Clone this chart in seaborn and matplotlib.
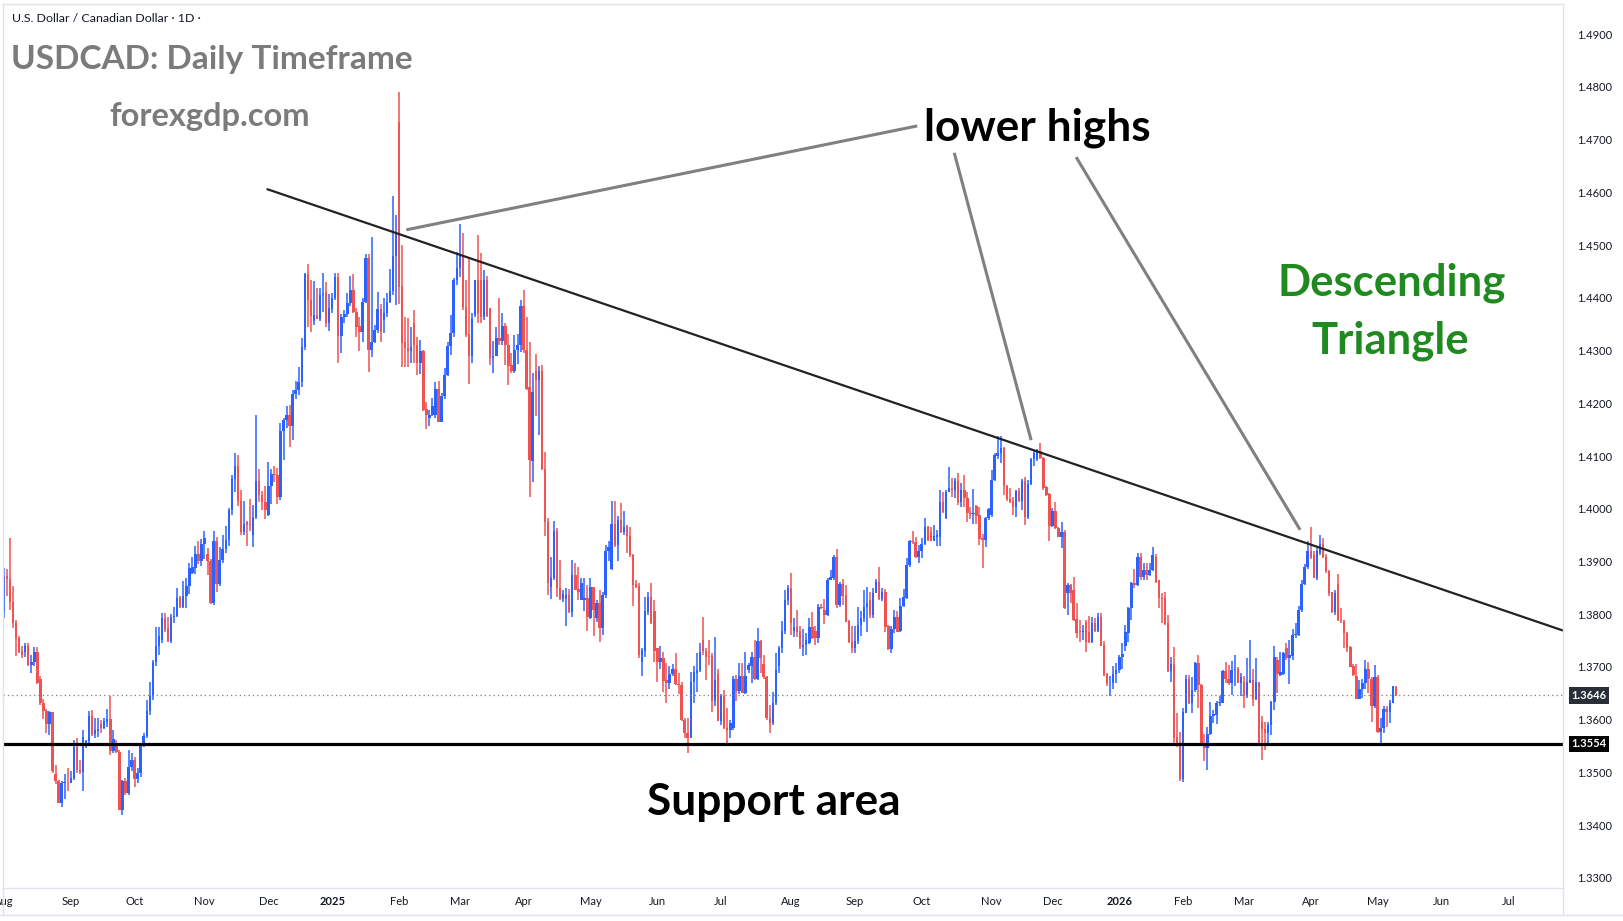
import numpy as np
import pandas as pd
import matplotlib
matplotlib.use("Agg")
import matplotlib.pyplot as plt
import matplotlib.transforms as mtransforms
from matplotlib.lines import Line2D
import seaborn as sns

# USDCAD daily candles, Aug 2024 - May 2026
# values are pips above 1.3000 (872 -> 1.3872)
opens = [
    805, 873, 866, 823, 783, 755, 731, 729, 740, 703, 709, 728, 677, 631, 617, 592, 614, 497, 483, 442,
    480, 482, 480, 489, 548, 505, 501, 553, 559, 607, 573, 578, 592, 584, 595, 602, 540, 554, 538, 429,
    483, 461, 511, 524, 487, 499, 552, 569, 617, 645, 709, 740, 752, 793,
    773, 750, 794, 797, 830, 814, 835, 853, 879, 887, 914, 901, 933, 915, 900, 821, 938, 858, 903, 923,
    941, 997, 1057, 1081, 1014, 955, 975, 972, 950, 984, 1052, 1026, 1012, 988, 1043, 1066, 1064, 1023, 1147, 1168,
    1178, 1156, 1218, 1226, 1240, 1307, 1446, 1395, 1357, 1367, 1360, 1406, 1411, 1352,
    1378, 1399, 1439, 1328, 1363, 1369, 1391, 1415, 1374, 1347, 1336, 1393, 1475, 1301, 1316, 1339, 1378, 1358, 1371, 1393,
    1413, 1479, 1734, 1422, 1317, 1304, 1300, 1352, 1311, 1277, 1299, 1189, 1172, 1178, 1178, 1227, 1165, 1213, 1254, 1309,
    1333, 1433, 1456, 1481, 1383, 1331, 1290, 1367,
    1434, 1433, 1364, 1434, 1380, 1285, 1290, 1323, 1319, 1347, 1311, 1273, 1262, 1302, 1311, 1385, 1301, 1230, 1091, 1261,
    1244, 1261, 1075, 974, 852, 868, 957, 849, 828, 828, 837, 805, 875, 847, 827, 826, 830, 792, 851, 792,
    821, 773, 837, 919, 885, 971, 931, 979, 955, 967, 948, 912, 858, 854,
    710, 731, 805, 832, 807, 735, 710, 716, 675, 670, 687, 697, 668, 666, 599, 575, 566, 672, 689, 695,
    752, 731, 721, 721, 636, 687, 598, 644, 585, 580, 584, 678, 655, 683, 651, 694, 702, 718, 678, 750,
    706, 680, 603, 593, 631, 701, 735, 769, 826, 849, 769, 776,
    768, 737, 742, 745, 776, 768, 755, 814, 808, 799, 865, 868, 909, 817, 857, 836, 787, 747, 735, 749,
    780, 792, 814, 827, 799, 840, 861, 829, 843, 777, 734, 772, 795, 768, 816, 830, 893, 939, 936, 909,
    919, 933, 966, 955, 939, 947, 947, 1013, 982, 1032, 1039, 1036, 1053,
    1013, 1035, 1020, 992, 990, 1005, 988, 944, 941, 982, 988, 1055, 1100, 1105, 1115, 1043, 1018, 1015, 1003, 1034,
    1015, 1053, 985, 1047, 1094, 1094, 1110, 1097, 1041, 1028, 967, 996, 963, 947, 955, 840, 855, 845, 790, 768,
    767, 786, 767, 748, 784, 769, 795, 742, 686, 669, 669, 687, 694, 718,
    740, 765, 811, 860, 855, 909, 870, 884, 874, 883, 908, 864, 830, 830, 783, 693, 706, 568, 552, 487,
    613, 678, 632, 657, 708, 666, 555, 547, 573, 606, 609, 631, 632, 693, 677, 669, 694, 697, 670, 672,
    644, 670, 676, 640, 672, 596, 583, 575, 590, 634, 713, 685,
    686, 735, 716, 721, 760, 761, 808, 857, 889, 920, 912, 868, 917, 933, 908, 881, 843, 805, 857, 789,
    788, 764, 738, 702, 682, 640, 659, 669, 697, 678, 625, 681, 577, 584, 621, 615, 632, 661,
]
highs = [
    887, 885, 944, 854, 789, 758, 739, 746, 745, 723, 737, 737, 683, 640, 620, 616, 614, 514, 486, 483,
    496, 508, 502, 562, 565, 524, 581, 562, 616, 619, 603, 603, 600, 603, 620, 645, 581, 562, 543, 486,
    489, 543, 537, 530, 508, 555, 575, 638, 672, 714, 775, 775, 802, 802,
    794, 801, 814, 849, 835, 863, 868, 898, 908, 929, 939, 943, 957, 925, 905, 957, 946, 927, 950, 967,
    1002, 1064, 1105, 1101, 1036, 1014, 976, 1019, 1007, 1177, 1076, 1033, 1043, 1088, 1075, 1082, 1078, 1163, 1173, 1194,
    1196, 1226, 1242, 1269, 1323, 1448, 1464, 1434, 1432, 1418, 1418, 1448, 1430, 1407,
    1409, 1448, 1448, 1369, 1377, 1409, 1441, 1445, 1380, 1363, 1399, 1484, 1483, 1516, 1349, 1412, 1388, 1399, 1409, 1454,
    1593, 1557, 1790, 1500, 1364, 1361, 1345, 1376, 1326, 1320, 1302, 1203, 1187, 1210, 1241, 1243, 1219, 1266, 1317, 1367,
    1437, 1486, 1540, 1523, 1434, 1478, 1371, 1434,
    1519, 1485, 1452, 1441, 1380, 1319, 1345, 1399, 1371, 1352, 1331, 1295, 1330, 1331, 1395, 1414, 1364, 1317, 1257, 1294,
    1270, 1273, 1108, 982, 909, 976, 963, 903, 846, 849, 847, 903, 897, 890, 868, 868, 856, 868, 852, 827,
    846, 843, 931, 938, 1014, 1015, 987, 1010, 995, 969, 966, 915, 865, 860,
    735, 833, 843, 859, 827, 735, 740, 729, 707, 702, 706, 726, 689, 672, 604, 604, 691, 701, 726, 745,
    795, 735, 752, 726, 757, 697, 649, 656, 622, 599, 683, 685, 708, 707, 729, 707, 729, 752, 773, 752,
    723, 682, 628, 653, 726, 740, 788, 845, 855, 878, 792, 808,
    778, 772, 764, 793, 805, 778, 819, 819, 829, 869, 884, 912, 924, 862, 867, 855, 789, 777, 777, 814,
    806, 846, 852, 843, 850, 867, 890, 850, 848, 780, 777, 808, 806, 831, 848, 906, 941, 958, 947, 931,
    944, 983, 968, 966, 969, 960, 1035, 1032, 1036, 1080, 1059, 1058, 1067,
    1049, 1064, 1032, 1003, 1037, 1007, 1003, 953, 985, 1001, 1073, 1106, 1138, 1138, 1117, 1045, 1039, 1023, 1036, 1039,
    1056, 1061, 1055, 1097, 1111, 1114, 1124, 1098, 1043, 1030, 1001, 1013, 965, 975, 960, 859, 857, 871, 822, 789,
    780, 789, 797, 795, 792, 803, 803, 750, 688, 683, 701, 707, 723, 745,
    780, 814, 862, 885, 917, 917, 898, 897, 897, 928, 915, 865, 841, 843, 798, 719, 738, 613, 577, 622,
    685, 685, 680, 710, 723, 668, 573, 587, 634, 618, 636, 644, 695, 710, 704, 712, 723, 699, 689, 682,
    716, 751, 697, 716, 672, 606, 596, 596, 636, 740, 719, 729,
    729, 746, 752, 771, 783, 815, 865, 896, 938, 966, 919, 925, 950, 944, 915, 883, 843, 846, 877, 811,
    789, 767, 740, 706, 706, 675, 677, 713, 710, 681, 704, 685, 603, 625, 625, 637, 664, 663,
]
lows = [
    793, 834, 808, 774, 720, 726, 717, 718, 701, 688, 701, 668, 628, 601, 575, 571, 499, 477, 441, 435,
    449, 464, 480, 486, 499, 496, 464, 546, 555, 569, 565, 568, 575, 582, 587, 533, 537, 537, 428, 420,
    458, 458, 502, 473, 480, 492, 549, 565, 609, 638, 701, 723, 745, 767,
    747, 745, 783, 794, 812, 811, 812, 839, 877, 877, 896, 891, 905, 875, 819, 818, 842, 854, 898, 916,
    929, 988, 1032, 1005, 951, 950, 930, 958, 927, 981, 1012, 998, 981, 986, 1009, 1050, 1009, 1016, 1092, 1154,
    1118, 1130, 1208, 1215, 1231, 1302, 1344, 1335, 1349, 1359, 1357, 1374, 1344, 1337,
    1371, 1395, 1277, 1296, 1352, 1363, 1385, 1371, 1326, 1300, 1317, 1390, 1260, 1288, 1314, 1333, 1317, 1333, 1363, 1391,
    1405, 1387, 1388, 1269, 1268, 1269, 1276, 1276, 1254, 1256, 1186, 1151, 1157, 1176, 1172, 1165, 1165, 1209, 1251, 1292,
    1326, 1424, 1440, 1377, 1326, 1237, 1277, 1363,
    1352, 1352, 1358, 1364, 1273, 1258, 1289, 1311, 1311, 1273, 1234, 1257, 1258, 1275, 1298, 1296, 1225, 1023, 1051, 1175,
    1140, 1074, 949, 837, 828, 864, 833, 826, 824, 778, 802, 794, 845, 827, 826, 807, 769, 790, 758, 786,
    748, 761, 830, 900, 884, 928, 900, 954, 950, 916, 908, 815, 849, 716,
    683, 719, 798, 781, 710, 672, 697, 653, 632, 659, 682, 666, 649, 598, 565, 537, 565, 632, 653, 691,
    723, 675, 704, 615, 626, 597, 590, 582, 554, 565, 580, 636, 649, 650, 649, 688, 670, 675, 675, 688,
    678, 599, 574, 590, 628, 688, 727, 762, 817, 761, 757, 757,
    734, 721, 723, 743, 753, 742, 745, 810, 781, 796, 865, 865, 812, 814, 817, 785, 745, 726, 726, 743,
    759, 786, 767, 792, 792, 840, 827, 825, 766, 732, 726, 764, 766, 767, 814, 829, 890, 933, 907, 897,
    906, 931, 939, 938, 938, 930, 930, 991, 981, 1032, 1023, 1021, 1007,
    1004, 1003, 974, 980, 971, 972, 931, 887, 927, 979, 985, 1053, 1094, 1086, 1026, 1015, 1010, 988, 984, 1013,
    998, 969, 980, 1045, 1081, 1091, 1094, 1036, 1024, 938, 965, 961, 946, 925, 809, 799, 822, 788, 754, 748,
    752, 729, 746, 746, 767, 767, 739, 682, 663, 644, 658, 669, 688, 697,
    731, 748, 789, 849, 853, 865, 864, 865, 872, 881, 859, 811, 783, 779, 691, 672, 550, 549, 484, 481,
    612, 630, 613, 653, 623, 550, 522, 505, 571, 593, 592, 625, 631, 669, 666, 647, 663, 669, 644, 623,
    641, 669, 625, 637, 555, 524, 543, 552, 571, 618, 651, 682,
    685, 714, 668, 714, 754, 759, 805, 855, 885, 904, 868, 865, 912, 906, 879, 835, 802, 798, 788, 784,
    735, 729, 699, 683, 640, 640, 642, 658, 651, 596, 622, 575, 550, 575, 587, 593, 631, 644,
]
closes = [
    872, 867, 823, 783, 755, 729, 723, 740, 703, 709, 728, 669, 631, 617, 592, 614, 502, 483, 442, 480,
    482, 481, 489, 548, 504, 501, 567, 559, 607, 573, 580, 582, 584, 597, 602, 540, 564, 538, 429, 483,
    461, 511, 524, 487, 499, 552, 569, 617, 645, 709, 740, 758, 793, 770,
    750, 794, 797, 830, 814, 835, 853, 887, 889, 914, 901, 933, 944, 900, 821, 938, 858, 903, 923, 941,
    997, 1057, 1081, 1014, 955, 972, 970, 969, 984, 1052, 1026, 1012, 998, 1043, 1066, 1064, 1023, 1147, 1168, 1178,
    1156, 1218, 1226, 1241, 1307, 1446, 1395, 1366, 1367, 1360, 1406, 1408, 1352, 1380,
    1399, 1439, 1328, 1363, 1369, 1391, 1415, 1374, 1345, 1336, 1393, 1475, 1301, 1316, 1339, 1378, 1336, 1371, 1393, 1413,
    1479, 1523, 1421, 1315, 1304, 1300, 1306, 1311, 1277, 1299, 1187, 1178, 1178, 1194, 1227, 1165, 1213, 1254, 1309, 1333,
    1433, 1456, 1481, 1383, 1330, 1290, 1359, 1434,
    1372, 1364, 1434, 1366, 1285, 1290, 1323, 1319, 1347, 1311, 1271, 1262, 1302, 1311, 1385, 1301, 1228, 1093, 1222, 1244,
    1261, 1075, 974, 860, 868, 957, 849, 828, 839, 837, 805, 875, 846, 843, 860, 830, 794, 851, 808, 821,
    773, 837, 919, 928, 971, 931, 979, 955, 965, 948, 912, 856, 852, 723,
    732, 807, 832, 783, 731, 710, 716, 674, 670, 687, 697, 668, 666, 599, 575, 566, 672, 691, 695, 729,
    731, 719, 719, 636, 675, 598, 644, 584, 580, 594, 678, 655, 682, 651, 683, 704, 718, 678, 750, 716,
    680, 603, 593, 631, 695, 735, 769, 826, 849, 784, 776, 767,
    737, 742, 751, 776, 754, 754, 814, 811, 799, 865, 871, 909, 817, 857, 835, 786, 747, 735, 749, 780,
    792, 814, 821, 799, 840, 861, 829, 842, 775, 734, 772, 795, 767, 816, 833, 893, 939, 936, 909, 919,
    933, 966, 941, 939, 949, 950, 1013, 993, 1032, 1039, 1036, 1053, 1013,
    1035, 1020, 991, 990, 992, 986, 942, 941, 982, 999, 1055, 1102, 1106, 1115, 1043, 1018, 1013, 1003, 1034, 1015,
    1053, 985, 1047, 1094, 1106, 1111, 1097, 1039, 1026, 967, 996, 963, 947, 955, 811, 855, 841, 789, 765, 767,
    768, 748, 748, 784, 769, 795, 740, 685, 669, 670, 687, 694, 718, 725,
    767, 811, 860, 855, 909, 870, 884, 874, 884, 912, 862, 830, 828, 781, 693, 706, 565, 552, 487, 615,
    678, 631, 657, 708, 666, 552, 547, 573, 607, 611, 632, 634, 693, 677, 669, 695, 697, 670, 681, 644,
    672, 676, 640, 672, 556, 583, 575, 590, 634, 719, 687, 691,
    727, 716, 723, 761, 763, 808, 857, 889, 920, 909, 868, 919, 933, 908, 881, 841, 805, 841, 789, 788,
    764, 735, 700, 685, 640, 659, 670, 697, 678, 625, 681, 577, 584, 621, 615, 632, 663, 646,
]

# levels drawn on the chart
support_level = 1.3554
last_price = 1.3646
price_ticks = np.arange(1.33, 1.4901, 0.01)

# descending trendline (bar index, price)
trend_x = [86.7, 513.0]
trend_y = [1.4606, 1.3769]
# pointers from the "lower highs" label to the three highs
pointer_start = [(300.5, 1.4726), (312.7, 1.4675), (352.8, 1.4667)]
pointer_end = [(132.4, 1.4529), (338.0, 1.4130), (426.5, 1.3960)]

holidays = ["2024-12-25", "2025-01-01", "2025-12-25", "2026-01-01"]
dates = pd.bdate_range("2024-08-01", "2026-07-31", freq="C", holidays=holidays)

n = len(closes)
df = pd.DataFrame({
    "date": dates[:n],
    "open": 1.3 + np.array(opens) / 10000,
    "high": 1.3 + np.array(highs) / 10000,
    "low": 1.3 + np.array(lows) / 10000,
    "close": 1.3 + np.array(closes) / 10000,
})
df["x"] = np.arange(n)
df["up"] = df["close"] >= df["open"]

UP, DOWN = "#2962FF", "#F05252"
colors = np.where(df["up"], UP, DOWN)

sns.set_theme(style="white")
plt.rcParams["font.family"] = ["Lato", "DejaVu Sans"]

W, H = 1623, 921
fig = plt.figure(figsize=(W / 100, H / 100), dpi=100)
ax = fig.add_axes([3 / W, 1 - 888 / H, 1560 / W, 884 / H])

# candles
ax.vlines(df["x"], df["low"], df["high"], colors=colors, linewidth=1.1)
body_bottom = df[["open", "close"]].min(axis=1)
body_height = (df["close"] - df["open"]).abs().clip(lower=0.00012)
ax.bar(df["x"], body_height, bottom=body_bottom, width=0.82, color=colors, linewidth=0)

# levels and trendline
ax.axhline(support_level, color="black", linewidth=2.3)
ax.axhline(last_price, color="#787b86", linewidth=0.9, linestyle=(0, (1, 2.5)))
sns.lineplot(x=trend_x, y=trend_y, ax=ax, color="#222222", linewidth=1.6)
for (x0, y0), (x1, y1) in zip(pointer_start, pointer_end):
    ax.plot([x0, x1], [y0, y1], color="#808080", linewidth=2.2, solid_capstyle="butt")

ax.set_xlim(-0.3, 513.0)
ax.set_ylim(1.32807, 1.49573)

# x axis: first trading day of each month
pos = pd.Series(np.arange(len(dates)), index=dates)
month_first = pos.groupby([dates.year, dates.month]).first()
tick_labels = []
for (yr, mo) in month_first.index:
    tick_labels.append(str(yr) if mo == 1 else pd.Timestamp(yr, mo, 1).strftime("%b"))
ax.set_xticks(month_first.values)
ax.set_xticklabels(tick_labels)
ax.tick_params(axis="x", length=0, pad=6, labelsize=8, labelcolor="#131722")
for lbl in ax.get_xticklabels():
    if lbl.get_text().isdigit():
        lbl.set_fontweight("bold")

# y axis on the right
ax.yaxis.tick_right()
ax.set_yticks(price_ticks)
ax.set_yticklabels([f"{v:.4f}" for v in price_ticks])
ax.tick_params(axis="y", length=0, pad=10, labelsize=8, labelcolor="#131722")

for s in ax.spines.values():
    s.set_color("#e0e3eb")
    s.set_linewidth(1)

# price tags
tag_tr = mtransforms.blended_transform_factory(ax.transAxes, ax.transData)
for price, bg in [(last_price, "#2a2e39"), (support_level, "#000000")]:
    ax.text(1.0167, price, f"{price:.4f}", transform=tag_tr, ha="center", va="center",
            fontsize=8, fontweight="bold", color="white", clip_on=False,
            bbox=dict(boxstyle="square,pad=0.25", fc=bg, ec="none"))

# outer frame pieces below the plot
fig.add_artist(Line2D([0, 1], [6 / H, 6 / H], color="#e0e3eb", linewidth=1))
fig.add_artist(Line2D([1563 / W, 1563 / W], [6 / H, 33 / H], color="#e0e3eb", linewidth=1))
fig.add_artist(Line2D([3 / W, 3 / W], [6 / H, 33 / H], color="#e0e3eb", linewidth=1))


def ftext(x, y, s, **kw):
    fig.text(x / W, 1 - y / H, s, **kw)


ftext(12, 18, "U.S. Dollar / Canadian Dollar · 1D ·", fontsize=8.9, color="#131722", va="center", ha="left")
ftext(11, 59, "USDCAD: Daily Timeframe", fontsize=24, fontweight="bold", color="#7b7b7b", va="center", ha="left")
ftext(210, 116, "forexgdp.com", fontsize=23.5, fontweight="bold", color="#7b7b7b", va="center", ha="center")
ftext(1037, 128, "lower highs", fontsize=31.8, fontweight="bold", color="black", va="center", ha="center")
ftext(1392, 283, "Descending", fontsize=31.4, fontweight="bold", color="#1f8a1f", va="center", ha="center")
ftext(1390, 341, "Triangle", fontsize=31.4, fontweight="bold", color="#1f8a1f", va="center", ha="center")
ftext(774, 802, "Support area", fontsize=31.8, fontweight="bold", color="black", va="center", ha="center")

fig.savefig("out.png", dpi=100)
